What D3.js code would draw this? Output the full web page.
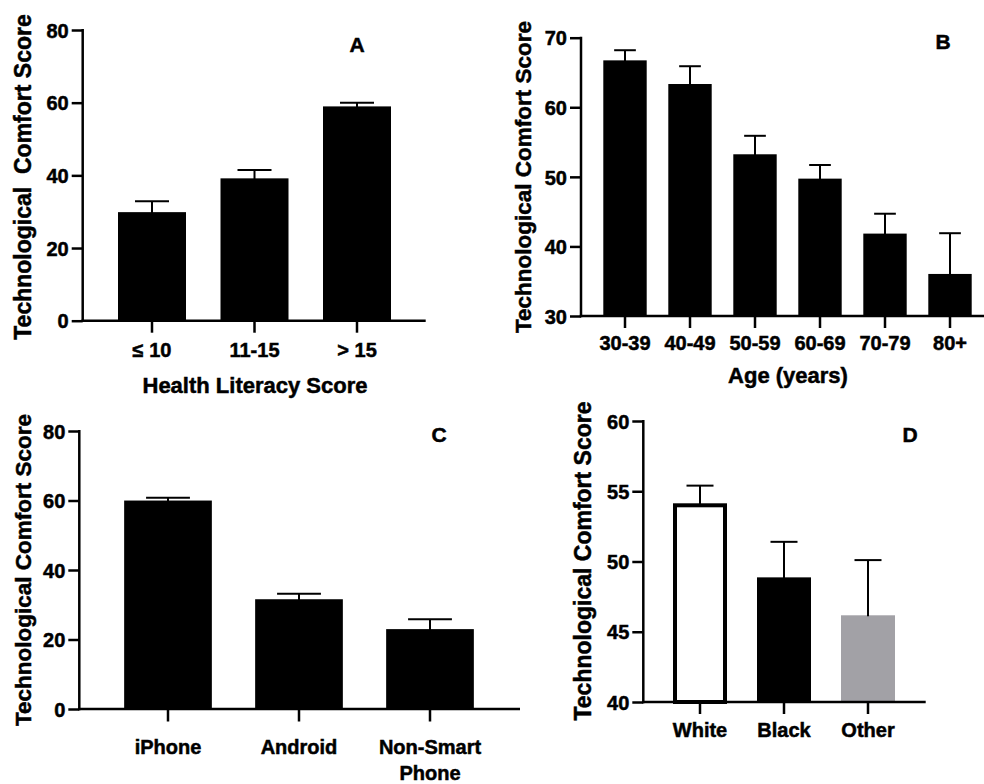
<!DOCTYPE html>
<html>
<head>
<meta charset="utf-8">
<script src="https://cdn.jsdelivr.net/npm/d3@7"></script>
<style>
  html, body { margin: 0; padding: 0; background: #fff; }
  svg { display: block; }
  text { font-family: "Liberation Sans", Arial, sans-serif; font-weight: bold; fill: #000; stroke: #000; stroke-width: 0.5px; }
</style>
</head>
<body>
<svg id="chart" width="984" height="784"></svg>
<script>
// ---------- DATA ----------
const catsA = ["≤ 10", "11-15", "> 15"];
const meanA = [29.6, 38.9, 58.7];
const semA  = [3.3, 2.6, 1.3];
const ticksA = [0, 20, 40, 60, 80];

const catsB = ["30-39", "40-49", "50-59", "60-69", "70-79", "80+"];
const meanB = [66.6, 63.2, 53.1, 49.6, 41.7, 35.9];
const semB  = [1.6, 2.7, 2.8, 2.1, 3.0, 6.0];
const ticksB = [30, 40, 50, 60, 70];

const catsC = ["iPhone", "Android", "Non-Smart Phone"];
const meanC = [59.7, 31.3, 22.7];
const semC  = [1.1, 1.9, 3.1];
const ticksC = [0, 20, 40, 60, 80];

const catsD = ["White", "Black", "Other"];
const meanD = [54.0, 48.8, 46.1];
const semD  = [1.4, 2.6, 4.0];
const ticksD = [40, 45, 50, 55, 60];
const fillD = ["#ffffff", "#000000", "#a2a1a6"];

// ---------- LAYOUT ----------
const svg = d3.select("#chart");

function panel(cfg) {
  const g = svg.append("g");
  const y = d3.scaleLinear().domain(cfg.ydom).range([cfg.y0, cfg.y1]);
  const n = cfg.cats.length;
  const pin = 1 - cfg.bw / cfg.step;
  const x = d3.scaleBand().domain(cfg.cats)
    .range([cfg.c0 - cfg.step / 2, cfg.c0 + cfg.step * (n - 0.5)])
    .paddingInner(pin).paddingOuter(pin / 2);

  // bars
  cfg.cats.forEach((c, i) => {
    const fill = cfg.fills ? cfg.fills[i] : "#000";
    const outlined = fill === "#ffffff";
    const top = y(cfg.mean[i]);
    const bx = x(c), bw = x.bandwidth();
    if (outlined) {
      g.append("rect").attr("x", bx + 2).attr("y", top)
        .attr("width", bw - 4).attr("height", cfg.y0 - top)
        .attr("fill", "#fff").attr("stroke", "#000").attr("stroke-width", 4);
    } else {
      g.append("rect").attr("x", bx).attr("y", top - 1)
        .attr("width", bw).attr("height", cfg.y0 - top + 1)
        .attr("fill", fill);
    }
    // error bar
    const cx = bx + bw / 2;
    const et = y(cfg.mean[i] + cfg.sem[i]);
    g.append("line").attr("x1", cx).attr("x2", cx)
      .attr("y1", top).attr("y2", et)
      .attr("stroke", "#000").attr("stroke-width", 2);
    g.append("line").attr("x1", cx - bw / 4).attr("x2", cx + bw / 4)
      .attr("y1", et).attr("y2", et)
      .attr("stroke", "#000").attr("stroke-width", 2);
  });

  // y axis
  const ya = g.append("g").attr("transform", `translate(${cfg.ax},0)`)
    .call(d3.axisLeft(y).tickValues(cfg.ticks).tickSize(11).tickSizeOuter(0).tickPadding(3));
  ya.select(".domain").remove();
  ya.selectAll(".tick line").attr("stroke", "#000").attr("stroke-width", 2.5);
  ya.selectAll(".tick text").style("font-size", "20px").attr("dy", "0.36em");
  g.append("line").attr("x1", cfg.ax).attr("x2", cfg.ax)
    .attr("y1", cfg.y1 - 1).attr("y2", cfg.y0 + 1.25)
    .attr("stroke", "#000").attr("stroke-width", 2.5);

  // x axis
  const xa = g.append("g").attr("transform", `translate(0,${cfg.y0})`)
    .call(d3.axisBottom(x).tickSize(cfg.xtick).tickSizeOuter(0));
  xa.select(".domain").remove();
  xa.selectAll(".tick line").attr("stroke", "#000").attr("stroke-width", 2.5);
  xa.selectAll(".tick text").style("font-size", "20px")
    .attr("y", cfg.labOff).attr("dy", 0)
    .each(function(d) {
      const t = d3.select(this);
      if (d === "Non-Smart Phone") {
        t.text(null);
        t.append("tspan").attr("x", 0).attr("y", cfg.labOff).text("Non-Smart");
        t.append("tspan").attr("x", 0).attr("y", cfg.labOff + 26).text("Phone");
      }
    });
  g.append("line").attr("x1", cfg.ax - 1.25).attr("x2", cfg.xEnd)
    .attr("y1", cfg.y0).attr("y2", cfg.y0)
    .attr("stroke", "#000").attr("stroke-width", 2.5);

  // titles
  g.append("text").attr("transform", `translate(${cfg.ytx},${cfg.yty}) rotate(-90)`)
    .attr("text-anchor", "middle").style("font-size", cfg.ytSize + "px")
    .style("white-space", "pre").text(cfg.ytitle);
  if (cfg.xtitle) {
    g.append("text").attr("x", cfg.xtx).attr("y", cfg.xty)
      .attr("text-anchor", "middle").style("font-size", "22px").text(cfg.xtitle);
  }
  g.append("text").attr("x", cfg.lx).attr("y", cfg.ly)
    .attr("text-anchor", "middle").style("font-size", "21px").text(cfg.letter);
}

panel({ cats: catsA, mean: meanA, sem: semA, ticks: ticksA, ydom: [0, 80],
  y0: 320.7, y1: 30, c0: 152, step: 102.5, bw: 68, ax: 82.7, xEnd: 425.7,
  xtick: 12, labOff: 36, ytitle: "Technological  Comfort Score", ytx: 31, yty: 177, ytSize: 23,
  xtitle: "Health Literacy Score", xtx: 255, xty: 393, letter: "A", lx: 357, ly: 52 });

panel({ cats: catsB, mean: meanB, sem: semB, ticks: ticksB, ydom: [30, 70],
  y0: 316, y1: 37.7, c0: 625, step: 65, bw: 43.4, ax: 581, xEnd: 984,
  xtick: 12, labOff: 34, ytitle: "Technological Comfort Score", ytx: 531, yty: 177, ytSize: 22.5,
  xtitle: "Age (years)", xtx: 788, xty: 383, letter: "B", lx: 943, ly: 49 });

panel({ cats: catsC, mean: meanC, sem: semC, ticks: ticksC, ydom: [0, 80],
  y0: 709, y1: 431, c0: 168, step: 131, bw: 87.7, ax: 79.3, xEnd: 520,
  xtick: 12.5, labOff: 45, ytitle: "Technological Comfort Score", ytx: 31, yty: 570, ytSize: 22.5,
  xtitle: null, letter: "C", lx: 439, ly: 442 });

panel({ cats: catsD, mean: meanD, sem: semD, ticks: ticksD, ydom: [40, 60], fills: fillD,
  y0: 702, y1: 421, c0: 700, step: 84, bw: 54, ax: 643.3, xEnd: 925.7,
  xtick: 12, labOff: 35, ytitle: "Technological Comfort Score", ytx: 591, yty: 561, ytSize: 23,
  xtitle: null, letter: "D", lx: 910, ly: 442 });
</script>
</body>
</html>
